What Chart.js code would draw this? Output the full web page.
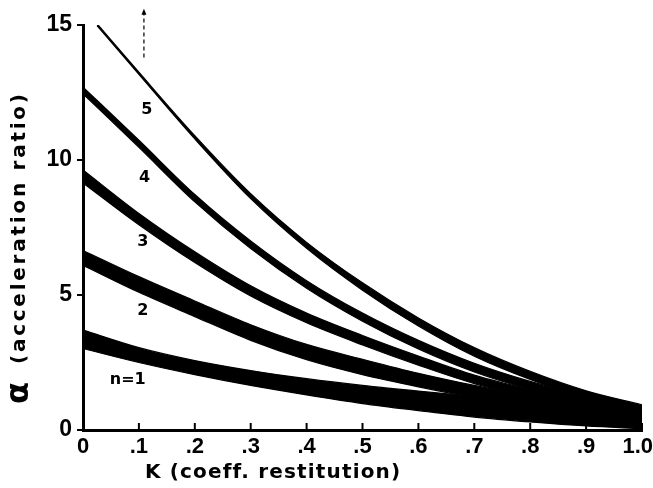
<!DOCTYPE html>
<html>
<head>
<meta charset="utf-8">
<script src="https://cdn.jsdelivr.net/npm/chart.js@4.4.1/dist/chart.umd.min.js"></script>
<style>
  html, body { margin: 0; padding: 0; background: #fff; }
  #wrap { width: 653px; height: 488px; position: relative; }
</style>
</head>
<body>
<div id="wrap"><canvas id="chart"></canvas></div>
<script>
// valores K (coeficiente de restitución)
const kValues  = [0, 0.1, 0.2, 0.3, 0.4, 0.5, 0.6, 0.7, 0.8, 0.9, 1.0];
const k5Values = [0.025, 0.1, 0.2, 0.3, 0.4, 0.5, 0.6, 0.7, 0.8, 0.9, 1.0];

// bandas: borde superior / inferior de cada curva
const n1Top = [3.7, 3.05, 2.57, 2.2, 1.9, 1.65, 1.44, 1.25, 1.08, 0.93, 0.8];
const n1Bot = [3.02, 2.5, 2.05, 1.65, 1.3, 0.98, 0.72, 0.48, 0.3, 0.15, 0.05];
const n2Top = [6.65, 5.68, 4.78, 3.9, 3.17, 2.62, 2.1, 1.65, 1.25, 0.92, 0.68];
const n2Bot = [6.1, 5.1, 4.2, 3.32, 2.6, 2.05, 1.6, 1.2, 0.87, 0.6, 0.42];
const n3Top = [9.63, 8.02, 6.6, 5.34, 4.33, 3.5, 2.74, 2.03, 1.5, 1.07, 0.76];
const n3Bot = [9.15, 7.6, 6.2, 4.96, 3.97, 3.15, 2.4, 1.72, 1.22, 0.82, 0.55];
const n4Top = [12.7, 10.73, 8.72, 7.0, 5.53, 4.33, 3.32, 2.47, 1.8, 1.26, 0.86];
const n4Bot = [12.45, 10.47, 8.45, 6.72, 5.25, 4.03, 3.0, 2.15, 1.5, 1.0, 0.65];
const n5Top = [15.05, 13.25, 10.9, 8.75, 6.95, 5.45, 4.15, 3.05, 2.17, 1.45, 0.93];
const n5Bot = [14.98, 13.17, 10.78, 8.57, 6.73, 5.18, 3.85, 2.73, 1.87, 1.17, 0.68];

const xTicks = [0, 0.1, 0.2, 0.3, 0.4, 0.5, 0.6, 0.7, 0.8, 0.9, 1.0];
const xTickLabels = ['0', '.1', '.2', '.3', '.4', '.5', '.6', '.7', '.8', '.9', '1.0'];
const yTicks = [0, 5, 10, 15];

// etiquetas de las curvas
const curveLabels = ['n=1', '2', '3', '4', '5'];
const curveLabelK = [0.08, 0.107, 0.107, 0.11, 0.114];
const curveLabelA = [1.85, 4.4, 6.96, 9.33, 11.85];

// flecha discontinua
const arrowK = 0.109;
const arrowFromA = 13.8;
const arrowToA = 15.6;

const FONT = "'DejaVu Sans', sans-serif";
const TICK_FONT = "'Liberation Sans', Arial, sans-serif";

function pts(xs, ys) {
  return xs.map((x, i) => ({ x: x, y: ys[i] }));
}

function band(xs, top, bot) {
  const base = {
    borderColor: '#000',
    borderWidth: 1.2,
    pointRadius: 0,
    cubicInterpolationMode: 'monotone',
  };
  return [
    Object.assign({}, base, { data: pts(xs, bot), fill: false }),
    Object.assign({}, base, { data: pts(xs, top), fill: '-1', backgroundColor: '#000' }),
  ];
}

// texto con separación ajustada a un ancho
function spacedText(ctx, text, x, y, width) {
  ctx.letterSpacing = '0px';
  const w = ctx.measureText(text).width;
  const sp = (width - w) / (text.length - 1);
  ctx.letterSpacing = sp + 'px';
  ctx.fillText(text, x, y);
  ctx.letterSpacing = '0px';
}

const extras = {
  id: 'extras',
  afterDraw(chart) {
    const ctx = chart.ctx;
    const xs = chart.scales.x;
    const ys = chart.scales.y;
    ctx.save();
    ctx.fillStyle = '#000';
    ctx.strokeStyle = '#000';

    // marcas del eje x hacia dentro + etiquetas
    ctx.lineWidth = 2;
    ctx.font = 'bold 22px ' + TICK_FONT;
    ctx.textBaseline = 'middle';
    xTicks.forEach((v, i) => {
      const px = xs.getPixelForValue(v);
      if (v !== 0) {
        ctx.beginPath();
        ctx.moveTo(px, ys.bottom);
        ctx.lineTo(px, ys.bottom - 7);
        ctx.stroke();
      }
      const last = i === xTicks.length - 1;
      ctx.textAlign = last ? 'right' : 'center';
      ctx.fillText(xTickLabels[i], last ? chart.width : px, ys.bottom + 17);
    });

    // etiquetas de las curvas
    ctx.font = 'bold 16px ' + FONT;
    ctx.textAlign = 'center';
    ctx.textBaseline = 'middle';
    curveLabels.forEach((t, i) => {
      ctx.fillText(t, xs.getPixelForValue(curveLabelK[i]), ys.getPixelForValue(curveLabelA[i]));
    });

    // flecha discontinua
    const ax = xs.getPixelForValue(arrowK);
    const y0 = ys.getPixelForValue(arrowFromA);
    const y1 = ys.getPixelForValue(arrowToA);
    ctx.lineWidth = 1.2;
    ctx.setLineDash([4, 3]);
    ctx.beginPath();
    ctx.moveTo(ax, y0);
    ctx.lineTo(ax, y1 + 4);
    ctx.stroke();
    ctx.setLineDash([]);
    ctx.beginPath();
    ctx.moveTo(ax, y1);
    ctx.lineTo(ax - 2.5, y1 + 6);
    ctx.lineTo(ax + 2.5, y1 + 6);
    ctx.closePath();
    ctx.fill();

    // título eje x
    ctx.font = 'bold 20px ' + FONT;
    ctx.textAlign = 'left';
    spacedText(ctx, 'K (coeff. restitution)', 145, 473, 255);

    // título eje y
    ctx.translate(20, 404);
    ctx.rotate(-Math.PI / 2);
    ctx.font = 'bold 32px ' + FONT;
    ctx.textBaseline = 'middle';
    ctx.fillText('α', 0, 0);
    ctx.font = 'bold 20px ' + FONT;
    spacedText(ctx, '(acceleration ratio)', 40, 0, 270);
    ctx.restore();
  }
};

new Chart(document.getElementById('chart'), {
  type: 'line',
  data: {
    datasets: [].concat(
      band(kValues, n1Top, n1Bot),
      band(kValues, n2Top, n2Bot),
      band(kValues, n3Top, n3Bot),
      band(kValues, n4Top, n4Bot),
      band(k5Values, n5Top, n5Bot)
    ),
  },
  options: {
    responsive: true,
    maintainAspectRatio: false,
    animation: false,
    layout: { padding: { top: 25, right: 11, left: 0, bottom: 0 } },
    plugins: { legend: { display: false }, tooltip: { enabled: false } },
    scales: {
      x: {
        type: 'linear',
        min: 0,
        max: 1,
        afterBuildTicks: s => { s.ticks = xTicks.map(v => ({ value: v })); },
        afterFit: s => { s.height = 58; s.paddingLeft = 0; s.paddingRight = 0; },
        ticks: { display: false },
        grid: { display: false, drawTicks: false },
        border: { display: true, color: '#000', width: 3 },
      },
      y: {
        min: 0,
        max: 15,
        afterBuildTicks: s => { s.ticks = yTicks.map(v => ({ value: v })); },
        afterFit: s => { s.width = 83; s.paddingTop = 0; s.paddingBottom = 0; },
        ticks: {
          color: '#000',
          font: { family: TICK_FONT, size: 23, weight: 'bold' },
          padding: 5,
        },
        grid: { drawOnChartArea: false, drawTicks: true, tickLength: 6, color: '#000', lineWidth: 2 },
        border: { display: true, color: '#000', width: 3 },
      },
    },
  },
  plugins: [extras],
});
</script>
</body>
</html>
